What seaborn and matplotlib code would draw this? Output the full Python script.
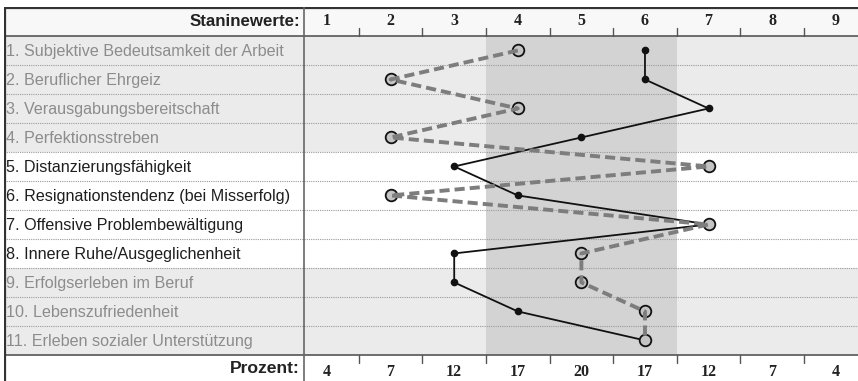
import matplotlib
matplotlib.use("Agg")
import matplotlib.pyplot as plt
import seaborn as sns
import pandas as pd
import numpy as np

categories = [
    "1. Subjektive Bedeutsamkeit der Arbeit",
    "2. Beruflicher Ehrgeiz",
    "3. Verausgabungsbereitschaft",
    "4. Perfektionsstreben",
    "5. Distanzierungsfähigkeit",
    "6. Resignationstendenz (bei Misserfolg)",
    "7. Offensive Problembewältigung",
    "8. Innere Ruhe/Ausgeglichenheit",
    "9. Erfolgserleben im Beruf",
    "10. Lebenszufriedenheit",
    "11. Erleben sozialer Unterstützung",
]
profil_solid = [6, 6, 7, 5, 3, 4, 7, 3, 3, 4, 6]
profil_dashed = [4, 2, 4, 2, 7, 2, 7, 5, 5, 6, 6]
stanine_labels = ["1", "2", "3", "4", "5", "6", "7", "8", "9"]
prozent_labels = ["4", "7", "12", "17", "20", "17", "12", "7", "4"]
gray_rows = [1, 2, 3, 4, 9, 10, 11]

sns.set_theme(style="white")
plt.rcParams["font.family"] = ["Liberation Sans", "DejaVu Sans"]

W, H = 858, 381
fig = plt.figure(figsize=(W / 100, H / 100), dpi=100)
ax = fig.add_axes([4 / W, 0, (W - 4) / W, (H - 7) / H])
xl, xr = -4.08, 9.35
divider = 0.64
ax.set_xlim(xl, xr)
ax.set_ylim(12.4, -0.5)
ax.axis("off")

n = len(categories)
rows = np.arange(1, n + 1)

# backgrounds
ax.axhspan(-0.5, 0.5, color="#f8f8f8", zorder=0, lw=0)
for r in rows:
    col = "#ebebeb" if r in gray_rows else "white"
    ax.axhspan(r - 0.5, r + 0.5, color=col, zorder=0, lw=0)
ax.fill_between([3.5, 6.5], 0.5, 11.5, color="#d3d3d3", zorder=0.5, lw=0)

# row separators
for r in range(1, n):
    ax.plot([xl, xr], [r + 0.5, r + 0.5], color="#9a9a9a", lw=0.8,
            linestyle=(0, (1, 1)), zorder=1)
ax.plot([xl, xr], [0.5, 0.5], color="#555555", lw=1.2, zorder=3)
ax.plot([xl, xr], [11.5, 11.5], color="#555555", lw=1.2, zorder=3)
ax.plot([xl, xr], [-0.48, -0.48], color="#333333", lw=1.6, zorder=3)
ax.plot([xl + 0.01, xl + 0.01], [-0.5, 12.4], color="#333333", lw=1.6, zorder=3)
ax.plot([divider, divider], [-0.5, 12.4], color="#666666", lw=1.2, zorder=3)

# ticks
for t in np.arange(1.5, 9.0, 1.0):
    ax.plot([t, t], [0.5, 0.22], color="#555555", lw=1.0, zorder=3)
    ax.plot([t, t], [11.5, 11.78], color="#555555", lw=1.0, zorder=3)

# labels
for r, lab in zip(rows, categories):
    c = "#8c8c8c" if r in gray_rows else "#1e1e1e"
    ax.text(xl + 0.03, r + 0.04, lab, ha="left", va="center", fontsize=11.6, color=c, zorder=4)
ax.text(divider - 0.07, 0.0, "Staninewerte:", ha="right", va="center",
        fontsize=12.2, fontweight="bold", color="#222222", zorder=4)
ax.text(divider - 0.07, 11.98, "Prozent:", ha="right", va="center",
        fontsize=12.6, fontweight="bold", color="#222222", zorder=4)
for i, (s, p) in enumerate(zip(stanine_labels, prozent_labels)):
    ax.text(i + 1, 0.0, s, ha="center", va="center", fontsize=11.5, fontweight="bold",
            family="Liberation Serif", color="#222222", zorder=4)
    ax.text(i + 1, 12.08, p, ha="center", va="center", fontsize=11.5, fontweight="bold",
            family="Liberation Serif", color="#222222", zorder=4)

df = pd.DataFrame({"row": rows, "solid": profil_solid, "dashed": profil_dashed})

sns.lineplot(data=df, x="solid", y="row", orient="y", sort=False, ax=ax,
             color="#111111", lw=1.3, marker="o", markersize=5.5,
             markeredgewidth=0, zorder=5)
sns.scatterplot(data=df, x="dashed", y="row", ax=ax, s=70, color="#c4c4c4",
                edgecolor="#111111", linewidth=1.3, zorder=6)
sns.lineplot(data=df, x="dashed", y="row", orient="y", sort=False, ax=ax,
             color="#7d7d7d", lw=2.8, linestyle=(0, (2.6, 1.3)), zorder=7)

ax.set_xlim(xl, xr)
ax.set_ylim(12.4, -0.5)
ax.axis("off")
fig.savefig("out.png", dpi=100)
